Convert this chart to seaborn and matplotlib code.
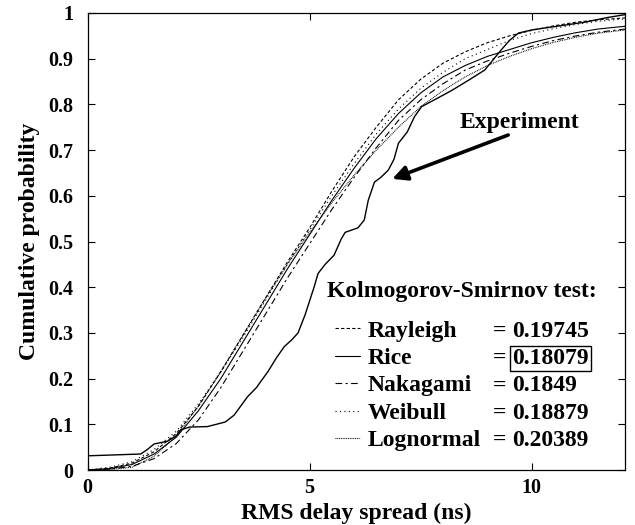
import numpy as np
import pandas as pd
import matplotlib
matplotlib.use("Agg")
import matplotlib.pyplot as plt
import seaborn as sns

# ---------------- data ----------------
grid_x = [0, 0.5, 1, 1.5, 2, 2.5, 3, 3.5, 4, 4.5, 5, 5.5, 6, 6.5, 7, 7.5,
          8, 8.5, 9, 9.5, 10, 10.5, 11, 11.5, 12.2]
rayleigh = [0, 0.004, 0.015, 0.04, 0.08, 0.14, 0.215, 0.295, 0.375, 0.455, 0.53,
            0.61, 0.685, 0.75, 0.81, 0.855, 0.89, 0.915, 0.935, 0.95, 0.962,
            0.972, 0.98, 0.985, 0.99]
rice = [0, 0.003, 0.012, 0.035, 0.072, 0.13, 0.2, 0.28, 0.36, 0.44, 0.515,
        0.59, 0.66, 0.725, 0.78, 0.825, 0.86, 0.885, 0.905, 0.92, 0.935,
        0.947, 0.957, 0.965, 0.972]
nakagami = [0, 0.002, 0.008, 0.025, 0.058, 0.11, 0.18, 0.26, 0.34, 0.42, 0.495,
            0.57, 0.64, 0.705, 0.765, 0.81, 0.845, 0.875, 0.895, 0.912, 0.927,
            0.94, 0.95, 0.958, 0.966]
weibull = [0, 0.006, 0.018, 0.045, 0.085, 0.145, 0.215, 0.29, 0.37, 0.45, 0.525,
           0.60, 0.67, 0.735, 0.79, 0.835, 0.87, 0.90, 0.92, 0.94, 0.955,
           0.966, 0.975, 0.982, 0.988]
lognormal = [0, 0.001, 0.006, 0.03, 0.075, 0.14, 0.215, 0.295, 0.375, 0.45, 0.52,
             0.585, 0.645, 0.70, 0.75, 0.795, 0.83, 0.86, 0.885, 0.905, 0.922,
             0.936, 0.947, 0.956, 0.964]

exp_x = [0, 1.2, 1.35, 1.5, 1.8, 2.0, 2.1, 2.3, 2.7, 3.1, 3.3, 3.6, 3.8, 4.06,
         4.25, 4.43, 4.6, 4.74, 4.9, 5.0, 5.1, 5.19, 5.35, 5.55, 5.71, 5.8, 6.09,
         6.23, 6.32, 6.46, 6.6, 6.77, 6.9, 7.0, 7.2, 7.36, 7.52, 7.81, 8.19, 8.58,
         8.94, 9.32, 9.5, 9.7, 10.0, 10.5, 11.2, 11.7, 12.2]
exp_y = [0.031, 0.035, 0.045, 0.057, 0.063, 0.075, 0.088, 0.094, 0.095, 0.105,
         0.12, 0.16, 0.18, 0.215, 0.245, 0.27, 0.285, 0.30, 0.34, 0.37, 0.40,
         0.43, 0.45, 0.47, 0.505, 0.52, 0.53, 0.547, 0.59, 0.63, 0.64, 0.656,
         0.68, 0.715, 0.74, 0.773, 0.795, 0.81, 0.83, 0.853, 0.875, 0.92, 0.94,
         0.956, 0.963, 0.97, 0.98, 0.99, 0.998]

fit_names = ["Rayleigh", "Rice", "Nakagami", "Weibull", "Lognormal"]
ks_values = ["0.19745", "0.18079", "0.1849", "0.18879", "0.20389"]
best_fit = "Rice"

x_ticks = [0, 5, 10]
y_ticks = [0, 0.1, 0.2, 0.3, 0.4, 0.5, 0.6, 0.7, 0.8, 0.9, 1.0]
y_tick_labels = ["0", "0.1", "0.2", "0.3", "0.4", "0.5", "0.6", "0.7", "0.8", "0.9", "1"]

# ---------------- styling ----------------
sns.set_theme(style="ticks")
plt.rcParams['font.family'] = ['Liberation Serif', 'DejaVu Serif']
plt.rcParams['font.weight'] = 'bold'
plt.rcParams['axes.labelweight'] = 'bold'
plt.rcParams['text.color'] = 'black'

fit_styles = {
    "Rayleigh": (0, (3, 2)),
    "Rice": "-",
    "Nakagami": (0, (6, 3, 2, 3)),
    "Weibull": (0, (1, 3)),
    "Lognormal": (0, (0.8, 0.8)),
}

fig = plt.figure(figsize=(6.35, 5.25), dpi=100)
ax = fig.add_axes([87.5 / 635, 55 / 525, 537.5 / 635, 457 / 525])

fits = {"Rayleigh": rayleigh, "Rice": rice, "Nakagami": nakagami,
        "Weibull": weibull, "Lognormal": lognormal}
handles = []
for name in fit_names:
    df = pd.DataFrame({"x": grid_x, "y": fits[name]})
    sns.lineplot(data=df, x="x", y="y", ax=ax, color="black", lw=0.8,
                 linestyle=fit_styles[name], label=name, legend=False)
    handles.append(ax.lines[-1])

df_exp = pd.DataFrame({"x": exp_x, "y": exp_y})
sns.lineplot(data=df_exp, x="x", y="y", ax=ax, color="black", lw=1.0, legend=False)

ax.set_xlim(0, 12.1)
ax.set_ylim(0, 1)
ax.set_xticks(x_ticks)
ax.set_xticklabels([str(t) for t in x_ticks])
ax.set_yticks(y_ticks)
ax.set_yticklabels(y_tick_labels)
ax.tick_params(direction="in", length=5, width=0.8, top=True, right=True,
               labelsize=14.5, color="black", labelcolor="black")
ax.tick_params(axis="y", pad=10)
ax.tick_params(axis="x", pad=6)
for lab in ax.get_xticklabels() + ax.get_yticklabels():
    lab.set_fontweight("bold")
for sp in ax.spines.values():
    sp.set_color("black")
    sp.set_linewidth(0.9)
ax.set_xlabel("RMS delay spread (ns)", fontsize=17, fontweight="bold", labelpad=3, color="black")
ax.set_ylabel("Cumulative probability", fontsize=17, fontweight="bold", labelpad=6, color="black")

# annotation
ax.text(9.72, 0.761, "Experiment", fontsize=17, fontweight="bold", ha="center",
        va="center", color="black")
ax.annotate("", xy=(6.86, 0.637), xytext=(9.47, 0.733),
            arrowprops=dict(arrowstyle="-|>", lw=2.6, color="black",
                            mutation_scale=22, shrinkA=0, shrinkB=0))

# legend title
ax.text((327 - 87.5) / 537.5, (470 - 292) / 457, "Kolmogorov-Smirnov test:",
        transform=ax.transAxes, fontsize=17, fontweight="bold", va="center",
        ha="left", color="black")

# legend with KS test values
leg = ax.legend(handles=handles, labels=fit_names, loc="upper left",
                bbox_to_anchor=((335 - 87.5) / 537.5, (470 - 320) / 457),
                frameon=False, borderpad=0, borderaxespad=0,
                handlelength=1.05, handletextpad=0.35, labelspacing=0.25,
                prop={"family": "Liberation Serif", "weight": "bold", "size": 17})
for t in leg.get_texts():
    t.set_color("black")

fig.canvas.draw()
inv = ax.transAxes.inverted()
for t, name, val in zip(leg.get_texts(), fit_names, ks_values):
    bb = t.get_window_extent()
    yc = inv.transform(((bb.x0 + bb.x1) / 2, (bb.y0 + bb.y1) / 2))[1]
    ax.text((493 - 87.5) / 537.5, yc, "=", transform=ax.transAxes, fontsize=17,
            fontweight="bold", va="center", ha="left", color="black")
    kw = {}
    if name == best_fit:
        kw["bbox"] = dict(boxstyle="square,pad=0.1", fc="none", ec="black", lw=1)
    ax.text((512 - 87.5) / 537.5, yc, val, transform=ax.transAxes, fontsize=17,
            fontweight="bold", va="center", ha="left", color="black", **kw)

fig.savefig("out.png", dpi=100)
